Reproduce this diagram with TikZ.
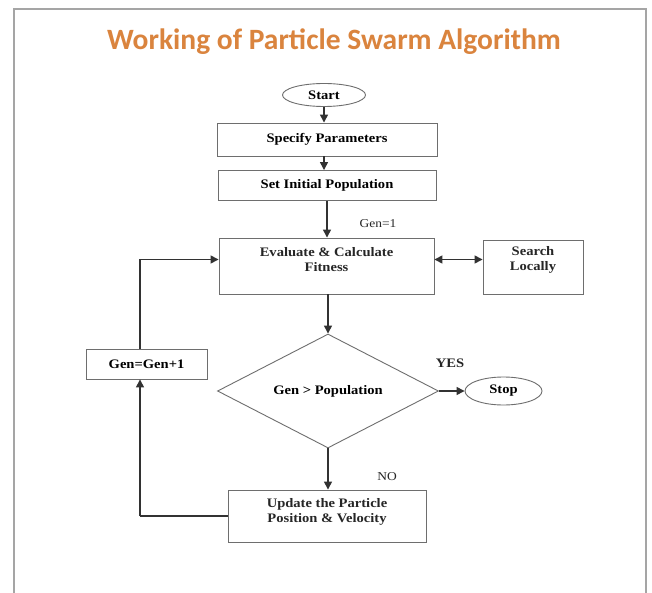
\documentclass[tikz,border=0pt]{standalone}
\usepackage{fontspec}
\setmainfont{Liberation Serif}
\newfontfamily\boxserif[FakeStretch=1.12]{Liberation Serif}
\newfontfamily\titlefont{Carlito}
\usetikzlibrary{shapes.geometric,arrows.meta}
\definecolor{titleorange}{RGB}{218,132,62}
\definecolor{framegray}{RGB}{165,165,165}
\definecolor{linegray}{RGB}{50,50,50}
\definecolor{boxgray}{RGB}{110,110,110}

\begin{document}
\begin{tikzpicture}[x=1pt,y=-1pt,
  boxfont/.style={font=\boxserif\bfseries\fontsize{13}{15}\selectfont},
  stepbox/.style={draw=boxgray, line width=0.9pt, rectangle, inner sep=0pt},
  oval/.style={draw=boxgray, line width=0.9pt, ellipse, inner sep=0pt, boxfont},
  txt/.style={boxfont, align=center, inner sep=0pt, text=black!85},
  lbl/.style={font=\boxserif\fontsize{12}{13}\selectfont, inner sep=0pt, text=black!85},
  arr/.style={draw=linegray, line width=1.4pt, -{Triangle[length=8pt,width=8pt]}},
  dblarr/.style={draw=linegray, line width=1.4pt, {Triangle[length=8pt,width=8pt]}-{Triangle[length=8pt,width=8pt]}},
  link/.style={draw=linegray, line width=1.4pt}]

% page and frame
\useasboundingbox (0,0) rectangle (652,593);
\fill[white] (0,0) rectangle (652,593);
\draw[framegray, line width=2pt] (14,593) -- (14,9) -- (646,9) -- (646,593);

% title
\node[font=\titlefont\bfseries\fontsize{29.5}{32}\selectfont, text=titleorange, inner sep=0pt]
  (title) at (334,42) {Working of Particle Swarm Algorithm};

% flow nodes
\node[oval, minimum width=83pt, minimum height=23pt] (start) at (324,95) {Start};
\node[stepbox, boxfont, minimum width=220pt, minimum height=33pt] (spec) at (327,139.5) {Specify Parameters};
\node[stepbox, boxfont, minimum width=218pt, minimum height=30pt] (init) at (327,185.5) {Set Initial Population};

\node[stepbox, minimum width=215pt, minimum height=56pt] (eval) at (326.5,266) {};
\node[txt] (evalt) at (326.5,259.5) {Evaluate \& Calculate\\Fitness};

\node[stepbox, minimum width=100pt, minimum height=54pt] (search) at (533,267) {};
\node[txt] (searcht) at (533,260) {Search\\Locally};

\node[draw=boxgray, line width=0.9pt, diamond, aspect=2, inner sep=0pt,
      minimum width=221pt, minimum height=114pt, boxfont] (test) at (328,391) {Gen > Population};
\node[oval, minimum width=77pt, minimum height=28pt] (stop) at (503.5,391) {Stop};

\node[stepbox, boxfont, minimum width=121pt, minimum height=30pt] (gen) at (146.5,364) {Gen=Gen+1};

\node[stepbox, minimum width=198pt, minimum height=52pt] (update) at (327,516) {};
\node[txt] (updatet) at (327,512) {Update the Particle\\Position \& Velocity};

% labels on the flow
\node[lbl] (gen1) at (378,224) {Gen=1};
\node[lbl, font=\boxserif\bfseries\fontsize{13}{14}\selectfont] (yes) at (450,363) {YES};
\node[lbl] (no) at (387,477) {NO};

% connectors
\draw[arr] (start.south) -- (start.south |- spec.north);
\draw[arr] (start.south |- spec.south) -- (start.south |- init.north);
\draw[arr] (init.south) -- (init.south |- eval.north);
\draw[dblarr] (eval.east |- evalt) -- (search.west |- evalt);
\draw[arr] (eval.south -| test.north) -- (test.north);
\draw[arr] (test.east) -- (stop.west);
\draw[arr] (test.south) -- (test.south |- update.north);

\coordinate (lowcorner) at (140,516);
\coordinate (upcorner) at (140,259.5);
\draw[link] (update.west) -- (lowcorner);
\draw[arr] (lowcorner) -- (lowcorner |- gen.south);
\draw[link] (upcorner |- gen.north) -- (upcorner);
\draw[arr] (upcorner) -- (eval.west |- upcorner);
\end{tikzpicture}
\end{document}
